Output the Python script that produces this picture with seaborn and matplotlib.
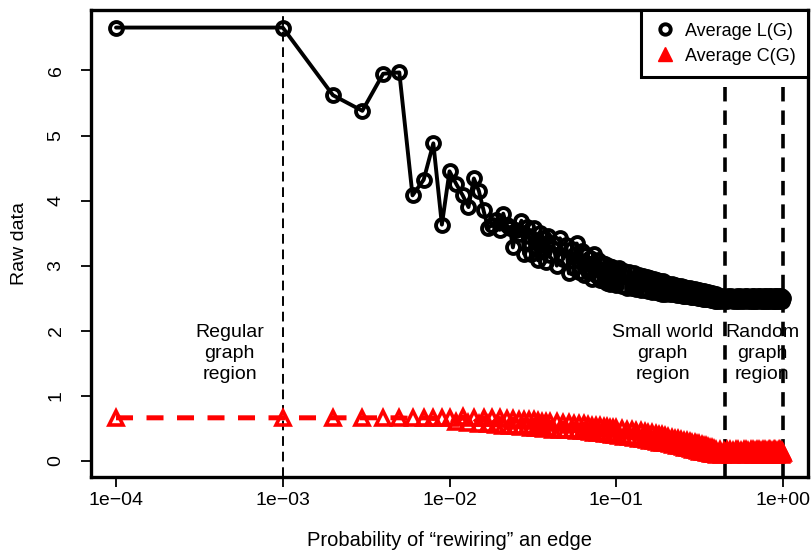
import numpy as np
import pandas as pd
import seaborn as sns
import matplotlib.pyplot as plt
from matplotlib.lines import Line2D

# rewiring probability, in thousandths
prob_permille = [0.1,
                 1, 2, 3, 4, 5, 6, 7, 8, 9, 10, 11, 12, 13, 14, 15, 16, 17, 18, 19, 20,
                 21, 22, 23, 24, 25, 26, 27, 28, 29, 30, 31, 32, 33, 34, 35, 36, 37, 38, 39, 40,
                 42, 44, 46, 48, 50, 52, 54, 56, 58, 60, 62, 64, 66, 68, 70,
                 72, 74, 76, 78, 80, 82, 84, 86, 88, 90, 92, 94, 96, 98, 100,
                 104, 108, 112, 116, 120, 124, 128, 132, 136, 140, 144, 148, 152,
                 156, 160, 164, 168, 172, 176, 180, 184, 188, 192, 196, 200,
                 205, 210, 215, 220, 225, 230, 235, 240, 245, 250, 255, 260, 265, 270,
                 275, 280, 285, 290, 295, 300, 305, 310, 315, 320, 325, 330, 335, 340,
                 345, 350, 355, 360, 365, 370, 375, 380, 385, 390, 395, 400,
                 410, 420, 430, 440, 450, 460, 470, 480, 490, 500, 510, 520, 530, 540, 550,
                 560, 570, 580, 590, 600, 610, 620, 630, 640, 650, 660, 670, 680, 690, 700,
                 710, 720, 730, 740, 750, 760, 770, 780, 790, 800, 810, 820, 830, 840, 850,
                 860, 870, 880, 890, 900, 910, 920, 930, 940, 950, 960, 970, 980, 990, 1000]

avg_L = [6.66,
         6.66, 5.62, 5.38, 5.95, 5.97, 4.08, 4.32, 4.88, 3.63, 4.45,
         4.25, 4.08, 3.90, 4.34, 4.15, 3.85, 3.58, 3.62, 3.70, 3.55,
         3.80, 3.62, 3.58, 3.28, 3.55, 3.48, 3.69, 3.18, 3.60, 3.45,
         3.18, 3.58, 3.28, 3.08, 3.50, 3.22, 3.42, 3.06, 3.46, 3.16,
         3.34, 3.00, 3.42, 3.10, 3.32, 2.88, 3.26, 2.96, 3.34, 2.90,
         3.22, 2.85, 3.16, 2.92, 3.12, 2.80, 3.18, 2.86, 3.08, 2.78,
         3.04, 2.76, 3.02, 2.74, 3.00, 2.72, 2.98, 2.74, 2.94, 2.70,
         2.96, 2.68, 2.92, 2.66, 2.90, 2.65, 2.89, 2.64, 2.86, 2.63,
         2.84, 2.62, 2.83, 2.61, 2.81, 2.60, 2.80, 2.59, 2.78, 2.58,
         2.77, 2.57, 2.76, 2.56, 2.74,
         2.72, 2.57, 2.71, 2.56, 2.70, 2.55, 2.69, 2.55, 2.68, 2.54,
         2.67, 2.53, 2.66, 2.53, 2.65, 2.52, 2.64, 2.51, 2.64, 2.51,
         2.63, 2.50, 2.62, 2.50, 2.61, 2.49, 2.61, 2.49, 2.60, 2.48,
         2.59, 2.48, 2.58, 2.47, 2.58, 2.47, 2.57, 2.46, 2.56, 2.46,
         2.53, 2.45, 2.54, 2.46, 2.52, 2.45, 2.53, 2.47, 2.54, 2.45,
         2.52, 2.46, 2.53, 2.45, 2.54, 2.46, 2.52, 2.45, 2.53, 2.47,
         2.54, 2.45, 2.52, 2.46, 2.53, 2.45, 2.54, 2.46, 2.52, 2.45,
         2.53, 2.47, 2.54, 2.45, 2.52, 2.46, 2.53, 2.45, 2.54, 2.46,
         2.52, 2.45, 2.53, 2.47, 2.54, 2.45, 2.52, 2.46, 2.53, 2.45,
         2.54, 2.46, 2.52, 2.45, 2.53, 2.47, 2.54, 2.45, 2.52, 2.50]

avg_C = [0.66,
         0.66, 0.66, 0.66, 0.66, 0.66, 0.65, 0.66, 0.65, 0.66, 0.65,
         0.60, 0.67, 0.58, 0.66, 0.57, 0.66, 0.56, 0.65, 0.55, 0.65,
         0.54, 0.64, 0.53, 0.64, 0.54, 0.63, 0.52, 0.63, 0.53, 0.62,
         0.51, 0.62, 0.50, 0.61, 0.51, 0.60, 0.49, 0.60, 0.50, 0.59,
         0.48, 0.59, 0.48, 0.58, 0.47, 0.58, 0.47, 0.57, 0.46, 0.56,
         0.45, 0.56, 0.45, 0.55, 0.44, 0.54, 0.43, 0.54, 0.43, 0.53,
         0.42, 0.52, 0.41, 0.52, 0.41, 0.51, 0.40, 0.50, 0.39, 0.50,
         0.38, 0.49, 0.37, 0.48, 0.36, 0.47, 0.35, 0.46, 0.34, 0.45,
         0.33, 0.44, 0.32, 0.43, 0.31, 0.42, 0.30, 0.41, 0.29, 0.40,
         0.28, 0.39, 0.27, 0.38, 0.27,
         0.36, 0.25, 0.35, 0.24, 0.34, 0.23, 0.33, 0.22, 0.32, 0.21,
         0.31, 0.20, 0.30, 0.19, 0.29, 0.18, 0.28, 0.17, 0.27, 0.16,
         0.26, 0.15, 0.25, 0.14, 0.24, 0.14, 0.23, 0.13, 0.22, 0.12,
         0.21, 0.12, 0.20, 0.11, 0.19, 0.10, 0.18, 0.10, 0.17, 0.09,
         0.10, 0.16, 0.09, 0.15, 0.11, 0.16, 0.10, 0.16, 0.09, 0.15,
         0.11, 0.16, 0.10, 0.16, 0.09, 0.15, 0.11, 0.16, 0.10, 0.16,
         0.09, 0.15, 0.11, 0.16, 0.10, 0.16, 0.09, 0.15, 0.11, 0.16,
         0.10, 0.16, 0.09, 0.15, 0.11, 0.16, 0.10, 0.16, 0.09, 0.15,
         0.11, 0.16, 0.10, 0.16, 0.09, 0.15, 0.11, 0.16, 0.10, 0.16,
         0.09, 0.15, 0.11, 0.16, 0.10, 0.16, 0.09, 0.15, 0.11, 0.12]

region_lines = [1.0, 450, 1000]  # permille
xtick_vals = [1e-4, 1e-3, 1e-2, 1e-1, 1e0]
xtick_labels = ['1e\u221204', '1e\u221203', '1e\u221202', '1e\u221201', '1e+00']

df = pd.DataFrame({'p': np.array(prob_permille) / 1000.0, 'L': avg_L, 'C': avg_C})

sns.set_style('white')
plt.rcParams['font.family'] = ['Liberation Sans', 'DejaVu Sans']
plt.rcParams.update({'text.color': 'black', 'axes.labelcolor': 'black',
                     'xtick.color': 'black', 'ytick.color': 'black'})

fig = plt.figure(figsize=(8.11, 5.55), dpi=100)
ax = fig.add_axes([91 / 811, 1 - 477 / 555, 717 / 811, 467 / 555])

# vertical region separators
ax.axvline(region_lines[0] / 1000, color='black', lw=1.4, linestyle=(0, (5, 3)), zorder=1)
for v in region_lines[1:]:
    ax.axvline(v / 1000, color='black', lw=2.6, linestyle=(0, (4, 2.5)), zorder=1)

sns.lineplot(data=df, x='p', y='L', ax=ax, color='black', lw=2.8, marker='o',
             markersize=9.3, markerfacecolor='none', markeredgecolor='black',
             markeredgewidth=2.8, estimator=None, sort=False, zorder=3)
sns.lineplot(data=df, x='p', y='C', ax=ax, color='red', lw=3.6, linestyle=(0, (3.4, 2.7)),
             marker='^', markersize=10.5, markerfacecolor='none', markeredgecolor='red',
             markeredgewidth=2.6, estimator=None, sort=False, zorder=3)

ax.set_xscale('log')
ax.set_xlim(10 ** -4.15, 10 ** 0.15)
ax.set_ylim(-0.25, 6.93)
ax.set_xticks(xtick_vals)
ax.set_xticklabels(xtick_labels)
ax.minorticks_off()
ax.set_yticks(range(7))
ax.set_yticklabels([str(i) for i in range(7)], rotation=90, va='center')
ax.tick_params(axis='both', direction='out', length=7, width=1.3, labelsize=14,
               bottom=True, left=True)
ax.tick_params(axis='x', pad=4)
ax.tick_params(axis='y', pad=12)
for s in ax.spines.values():
    s.set_linewidth(2.4)
    s.set_color('black')

ax.set_xlabel('Probability of \u201crewiring\u201d an edge', fontsize=14.5, labelpad=16)
ax.set_ylabel('Raw data', fontsize=14, labelpad=14)

txt = dict(ha='center', va='center', fontsize=14, linespacing=1.3)
ax.text(4.8e-4, 1.65, 'Regular\ngraph\nregion', **txt)
ax.text(0.19, 1.65, 'Small world\ngraph\nregion', **txt)
ax.text(0.75, 1.65, 'Random\ngraph\nregion', **txt)

handles = [Line2D([], [], color='black', marker='o', ls='none', markersize=7.5,
                  markerfacecolor='none', markeredgewidth=2.8),
           Line2D([], [], color='red', marker='^', ls='none', markersize=10,
                  markerfacecolor='red', markeredgewidth=1)]
leg = ax.legend(handles, ['Average L(G)', 'Average C(G)'], loc='upper right',
                fontsize=13, frameon=True, fancybox=False, borderpad=0.7,
                handletextpad=0.5, handlelength=1.2, labelspacing=0.45,
                borderaxespad=0, framealpha=1)
leg.get_frame().set_edgecolor('black')
leg.get_frame().set_linewidth(2.2)

fig.savefig('out.png', dpi=100)
